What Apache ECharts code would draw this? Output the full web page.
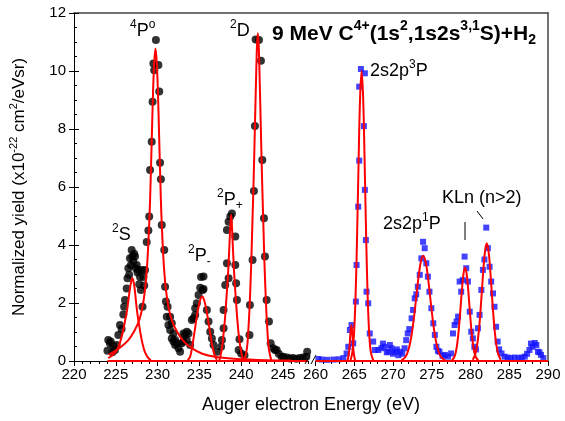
<!DOCTYPE html>
<html><head><meta charset="utf-8">
<script src="https://cdn.jsdelivr.net/npm/echarts@6/dist/echarts.min.js"></script>
<style>html,body{margin:0;padding:0;background:#fff}#c{width:565px;height:421px}</style>
</head><body><div id="c"></div>
<script>
const FONT = 'Liberation Sans, Arial, sans-serif';

// tick labels
const xTicksLeft = [220, 225, 230, 235, 240, 245];
const xTicksRight = [260, 265, 270, 275, 280, 285, 290];

// measured points, left segment (black dots)
const blackDots = [
 [224.0,0.35],[224.1,0.72],[224.3,0.60],[224.4,0.67],[224.6,0.30],[224.7,0.53],[224.9,0.38],[225.1,0.55],
 [225.3,0.90],[225.5,1.24],[225.7,1.10],[225.9,1.60],[226.0,1.87],[226.1,2.10],[226.3,2.50],[226.4,2.85],
 [226.5,3.20],[226.6,2.97],[226.7,3.54],[226.8,3.30],[226.9,3.83],[227.0,3.60],[227.1,3.43],[227.2,3.70],
 [227.3,3.60],[227.4,3.20],[227.5,3.31],[227.6,3.05],[227.7,3.14],[227.8,2.65],[227.9,2.90],[228.0,2.45],
 [228.1,3.14],[228.2,1.87],[228.3,2.90],[228.4,2.60],[228.5,3.14],[228.7,4.10],[228.9,4.50],[229.0,4.98],
 [229.1,6.59],[229.3,7.56],[229.4,8.94],[229.5,10.26],[229.6,10.03],[229.8,11.07],[230.1,10.21],[230.2,9.29],
 [230.3,6.84],[230.4,6.27],[230.5,4.69],[230.8,3.83],[230.9,2.56],[231.0,2.05],[231.1,1.53],[231.2,1.87],
 [231.3,1.24],[231.5,1.07],[231.5,1.53],[231.7,0.78],[231.7,1.30],[231.9,0.67],[231.9,0.95],[232.1,0.55],
 [232.1,0.72],[232.3,0.60],[232.5,0.44],[232.7,0.32],[232.9,0.61],[233.1,0.67],[233.1,0.95],[233.3,0.90],
 [233.5,1.01],[233.5,0.72],[233.7,0.95],[233.9,0.55],[234.1,1.41],[234.3,1.47],[234.5,1.59],[234.5,1.82],
 [234.7,1.99],[234.9,2.28],[235.1,2.53],[235.2,2.90],[235.4,2.45],[235.5,2.48],[235.5,2.91],[235.9,1.76],
 [236.1,1.36],[236.3,1.01],[236.5,0.78],[236.7,0.55],[237.1,0.32],[237.6,0.49],[237.7,0.72],[237.9,1.13],
 [237.9,1.76],[238.1,2.62],[238.3,3.37],[238.3,4.52],[238.5,4.80],[238.5,2.85],[238.7,4.98],[238.9,5.09],
 [239.3,4.29],[239.3,3.31],[239.4,2.68],[239.5,2.10],[239.7,0.38],[239.8,0.75],[240.0,0.26],[240.4,0.20],
 [241.0,0.90],[241.05,1.93],[241.37,3.48],[241.53,5.86],[241.65,8.10],[241.73,11.09],[242.13,11.07],[242.37,10.35],
 [242.53,6.93],[242.73,4.92],[242.85,3.60],[243.05,2.10],[243.33,1.36],[243.53,0.61],[243.85,0.44],[244.04,0.38],
 [244.25,0.38],[244.5,0.25],[244.84,0.15],[245.05,0.15],[245.5,0.12],[245.83,0.09],[246.2,0.10],[246.6,0.08],
 [247.0,0.10],[247.4,0.12],[247.8,0.15],[247.9,0.32]
];

// measured points, right segment (blue squares)
const blueSquares = [
 [260.37,0.07],[260.8,0.05],[261.5,0.04],[262.3,0.05],[263.0,0.06],[263.6,0.10],[264.01,0.26],[264.23,0.49],
 [264.44,1.07],[264.65,1.24],[264.87,0.61],[265.21,2.05],[265.3,3.31],[265.51,5.32],[265.64,6.91],[265.64,9.46],
 [265.86,10.07],[266.24,8.10],[266.37,9.92],[266.37,5.90],[266.50,4.17],[266.59,2.39],[266.80,1.99],[267.0,0.95],
 [267.44,0.67],[267.66,0.38],[268.1,0.38],[268.5,0.44],[268.7,0.60],[268.9,0.49],[269.2,0.30],[269.4,0.32],
 [269.6,0.55],[269.8,0.44],[270.0,0.25],[270.2,0.32],[270.5,0.40],[270.7,0.20],[270.9,0.32],[271.2,0.25],
 [271.5,0.44],[271.7,0.72],[271.9,0.95],[272.1,1.10],[272.4,1.47],[272.59,1.76],[272.8,2.16],[273.0,2.30],
 [273.2,2.56],[273.45,2.97],[273.66,3.54],[273.88,4.11],[274.09,3.89],[274.3,3.37],[274.5,2.91],[274.7,2.39],
 [274.95,1.82],[275.2,1.30],[275.4,0.90],[275.6,0.49],[275.8,0.35],[276.0,0.32],[276.4,0.18],[276.7,0.21],
 [277.1,0.15],[277.5,0.26],[277.74,0.95],[277.95,1.24],[278.2,1.36],[278.4,1.53],[278.6,2.74],[278.8,2.39],
 [279.0,2.79],[279.24,3.60],[279.45,3.20],[279.67,2.74],[279.9,1.70],[280.1,1.01],[280.3,0.78],[280.5,0.49],
 [280.7,0.40],[280.96,1.13],[281.17,1.59],[281.4,2.45],[281.6,3.14],[281.8,3.50],[282.03,4.60],[282.24,3.89],
 [282.46,3.25],[282.67,2.74],[282.9,2.33],[283.1,1.87],[283.3,1.18],[283.5,0.67],[283.7,0.40],[284.0,0.26],
 [284.4,0.15],[284.8,0.12],[285.2,0.10],[285.7,0.12],[286.2,0.10],[286.6,0.12],[287.0,0.15],[287.3,0.25],
 [287.6,0.38],[287.8,0.60],[288.0,0.49],[288.3,0.62],[288.5,0.55],[288.7,0.32],[288.9,0.30],[289.1,0.21],[289.4,0.10]
];

// fitted peak curves
const fit2S = [[224.1,0.10],[224.6,0.20],[225.0,0.32],[225.4,0.55],[225.8,0.95],[226.1,1.36],[226.4,1.85],[226.6,2.30],
 [226.8,2.68],[227.0,2.85],[227.2,2.62],[227.4,2.10],[227.6,1.60],[227.9,1.05],[228.2,0.60],[228.5,0.30],[228.9,0.10],[229.2,0.03]];
const fit4P = [[224.15,0.22],[225.45,0.45],[226.45,0.70],[227.25,1.05],[227.85,1.45],[228.25,1.95],[228.55,2.6],[228.75,3.3],
 [228.9,4.1],[229.05,5.1],[229.15,6.0],[229.3,7.6],[229.45,9.2],[229.6,10.3],[229.75,10.78],[229.9,10.3],[230.05,9.2],
 [230.2,7.6],[230.35,6.0],[230.45,5.1],[230.6,4.1],[230.75,3.3],[230.95,2.6],[231.25,1.95],[231.65,1.45],[232.25,1.05],
 [233.05,0.70],[234.05,0.45],[235.35,0.25],[237.0,0.14],[239.5,0.07],[243.0,0.03],[246.0,0.02]];
const fit2Pm = [[233.6,0.03],[233.9,0.15],[234.2,0.60],[234.45,1.05],[234.7,1.55],[234.95,1.95],[235.15,2.15],[235.35,2.22],
 [235.55,2.12],[235.75,1.90],[236.0,1.50],[236.25,1.05],[236.5,0.60],[236.8,0.22],[237.1,0.04]];
const fit2Pp = [[237.4,0.03],[237.65,0.35],[237.85,0.80],[238.05,1.40],[238.25,2.20],[238.45,3.10],[238.6,4.00],[238.7,4.65],
 [238.8,5.05],[238.9,4.65],[239.0,4.00],[239.15,3.10],[239.35,2.20],[239.55,1.40],[239.75,0.80],[239.95,0.40],[240.2,0.05]];
const fit2D = [[240.4,0.03],[240.7,0.45],[240.85,1.0],[241.0,1.8],[241.2,3.3],[241.35,4.8],[241.5,6.3],[241.65,8.1],[241.8,9.9],
 [241.9,10.9],[242.0,11.3],[242.1,10.9],[242.2,9.9],[242.35,8.1],[242.5,6.3],[242.65,4.8],[242.8,3.3],[243.0,1.8],
 [243.15,1.0],[243.3,0.45],[243.6,0.03]];
const fitBaseLeft = [[224.0,0],[248.0,0]];
const fit264 = [[264.15,0.02],[264.35,0.35],[264.5,0.95],[264.62,1.24],[264.75,0.95],[264.9,0.35],[265.1,0.02]];
const fit3P = [[264.5,0.01],[264.75,0.29],[264.95,0.85],[265.15,2.06],[265.35,4.11],[265.55,6.74],[265.75,9.06],[265.95,10.0],
 [266.15,9.06],[266.35,6.74],[266.55,4.11],[266.75,2.06],[266.95,0.85],[267.15,0.29],[267.45,0.02]];
const fit1P = [[271.1,0.03],[271.5,0.11],[271.8,0.24],[272.1,0.49],[272.4,0.90],[272.7,1.49],[273.0,2.20],[273.3,2.91],[273.6,3.43],
 [273.9,3.63],[274.2,3.43],[274.5,2.91],[274.8,2.20],[275.1,1.49],[275.4,0.90],[275.7,0.49],[276.0,0.24],[276.3,0.11],[276.7,0.03]];
const fitKLn1 = [[277.6,0.02],[277.9,0.13],[278.1,0.30],[278.3,0.62],[278.5,1.12],[278.7,1.78],[278.9,2.47],[279.1,3.01],[279.3,3.22],
 [279.5,3.01],[279.7,2.47],[279.9,1.78],[280.1,1.12],[280.3,0.62],[280.5,0.30],[280.7,0.13],[281.0,0.02]];
const fitKLn2 = [[280.3,0.04],[280.6,0.22],[280.85,0.53],[281.1,1.10],[281.35,1.95],[281.6,2.93],[281.85,3.74],[282.1,4.06],
 [282.35,3.74],[282.6,2.93],[282.85,1.95],[283.1,1.10],[283.35,0.53],[283.6,0.22],[283.9,0.04]];
const fitBaseRight = [[260.0,0],[290.0,0]];

const fitsLeft = [fitBaseLeft, fit2S, fit4P, fit2Pm, fit2Pp, fit2D];
const fitsRight = [fitBaseRight, fit264, fit3P, fit1P, fitKLn1, fitKLn2];

function rich(size, weight) {
  return {
    n: {fontSize: size, fontFamily: FONT, fontWeight: weight, fill: '#000', color: '#000', verticalAlign: 'middle'},
    sup: {fontSize: Math.round(size * 0.66), fontFamily: FONT, fontWeight: weight, fill: '#000', color: '#000',
          padding: [0, 0, Math.round(size * 0.72), 0], verticalAlign: 'middle'},
    sub: {fontSize: Math.round(size * 0.66), fontFamily: FONT, fontWeight: weight, fill: '#000', color: '#000',
          padding: [Math.round(size * 0.6), 0, 0, 0], verticalAlign: 'middle'}
  };
}
const R18 = rich(18, 'normal');
const R21B = rich(21, 'bold');

function txt(x, y, text, r) {
  return {type: 'text', x: x, y: y, z: 100,
    style: {text: text, rich: r, align: 'left', verticalAlign: 'middle', textAlign: 'left', textVerticalAlign: 'middle',
            fontSize: 18, fontFamily: FONT, fill: '#000'}};
}
function seg(x1, y1, x2, y2, w) {
  return {type: 'line', z: 100, shape: {x1: x1, y1: y1, x2: x2, y2: y2}, style: {stroke: '#000', lineWidth: w || 1}};
}

const chart = echarts.init(document.getElementById('c'), null, {renderer: 'canvas'});
const axisLab = {color: '#000', fontSize: 15, fontFamily: FONT};
const series = [];
series.push({type: 'scatter', xAxisIndex: 0, yAxisIndex: 0, data: blackDots, symbol: 'circle', symbolSize: 8,
  itemStyle: {color: '#000'}, z: 2, silent: true});
series.push({type: 'scatter', xAxisIndex: 2, yAxisIndex: 2, data: blueSquares, symbol: 'rect', symbolSize: 6,
  itemStyle: {color: '#1414ff'}, z: 2, silent: true});
fitsLeft.forEach(d => series.push({type: 'line', xAxisIndex: 0, yAxisIndex: 0, data: d, showSymbol: false, symbol: 'none',
  smooth: 0.35, lineStyle: {color: '#ff0000', width: 2}, z: 3, silent: true}));
fitsRight.forEach(d => series.push({type: 'line', xAxisIndex: 2, yAxisIndex: 2, data: d, showSymbol: false, symbol: 'none',
  smooth: 0.35, lineStyle: {color: '#ff0000', width: 2}, z: 3, silent: true}));

chart.setOption({
  animation: false,
  backgroundColor: '#fff',
  grid: [
    {left: 74, top: 13, width: 234, height: 348},
    {left: 315.5, top: 13, width: 232.5, height: 348},
    {left: 74, top: 13, width: 474, height: 348}
  ],
  xAxis: [
    {type: 'value', gridIndex: 0, min: 220, max: 248, interval: 5, position: 'bottom',
     axisLine: {show: true, onZero: false, lineStyle: {color: '#000', width: 1}},
     axisTick: {show: true, inside: false, length: 5, customValues: xTicksLeft, lineStyle: {color: '#000'}},
     axisLabel: {show: true, customValues: xTicksLeft, margin: 6, ...axisLab},
     splitLine: {show: false}},
    {type: 'value', gridIndex: 0, min: 220, max: 248, interval: 1, position: 'bottom',
     axisLine: {show: false}, axisTick: {show: true, length: 3, lineStyle: {color: '#000'}},
     axisLabel: {show: false}, splitLine: {show: false}},
    {type: 'value', gridIndex: 1, min: 260, max: 290, interval: 5, position: 'bottom',
     axisLine: {show: true, onZero: false, lineStyle: {color: '#000', width: 1}},
     axisTick: {show: true, inside: false, length: 5, lineStyle: {color: '#000'}},
     minorTick: {show: true, splitNumber: 5, length: 3, lineStyle: {color: '#000'}},
     axisLabel: {show: true, margin: 6, ...axisLab},
     splitLine: {show: false}},
    {type: 'value', gridIndex: 2, min: 0, max: 1, position: 'top',
     axisLine: {show: true, onZero: false, lineStyle: {color: '#444', width: 1.5}},
     axisTick: {show: false}, axisLabel: {show: false}, splitLine: {show: false}}
  ],
  yAxis: [
    {type: 'value', gridIndex: 0, min: 0, max: 12, interval: 2, position: 'left',
     axisLine: {show: true, onZero: false, lineStyle: {color: '#000', width: 1}},
     axisTick: {show: true, inside: false, length: 5, lineStyle: {color: '#000'}},
     axisLabel: {show: true, margin: 8, ...axisLab},
     splitLine: {show: false},
     name: '{n|Normalized yield (x10}{sup|-22}{n| cm}{sup|2}{n|/eVsr)}',
     nameLocation: 'middle', nameGap: 43, nameRotate: 90,
     nameTextStyle: {rich: {
       n: {fontSize: 17, fontFamily: FONT, color: '#000', verticalAlign: 'middle'},
       sup: {fontSize: 11, fontFamily: FONT, color: '#000', padding: [0, 0, 12, 0], verticalAlign: 'middle'}}}},
    {type: 'value', gridIndex: 0, min: 0, max: 12, interval: 2, position: 'left',
     axisLine: {show: false}, axisTick: {show: true, inside: true, length: 5, lineStyle: {color: '#000'}},
     minorTick: {show: true, splitNumber: 4, length: 3, lineStyle: {color: '#000'}},
     axisLabel: {show: false}, splitLine: {show: false}},
    {type: 'value', gridIndex: 1, min: 0, max: 12, interval: 2, show: false, splitLine: {show: false}},
    {type: 'value', gridIndex: 2, min: 0, max: 1, position: 'right',
     axisLine: {show: true, onZero: false, lineStyle: {color: '#444', width: 1.5}},
     axisTick: {show: false}, axisLabel: {show: false}, splitLine: {show: false}}
  ],
  series: series,
  graphic: [
    txt(272, 34, '{n|9 MeV C}{sup|4+}{n|(1s}{sup|2}{n|,1s2s}{sup|3,1}{n|S)+H}{sub|2}', R21B),
    txt(130, 31, '{sup|4}{n|P}{sup|o}', R18),
    txt(230, 31, '{sup|2}{n|D}', R18),
    txt(112, 235, '{sup|2}{n|S}', R18),
    txt(188, 256, '{sup|2}{n|P}{sub|-}', R18),
    txt(217, 200, '{sup|2}{n|P}{sub|+}', R18),
    txt(370, 71, '{n|2s2p}{sup|3}{n|P}', R18),
    txt(383, 224, '{n|2s2p}{sup|1}{n|P}', R18),
    txt(442, 198, '{n|KLn (n>2)}', R18),
    seg(465, 222, 465, 240, 1),
    seg(477, 211, 483, 219, 1),
    seg(305, 364, 310, 355, 1),
    seg(311, 364, 316, 355, 1),
    {type: 'text', x: 311, y: 405, z: 100,
     style: {text: 'Auger electron Energy (eV)', fontSize: 18, fontFamily: FONT, fill: '#000',
             align: 'center', verticalAlign: 'middle', textAlign: 'center', textVerticalAlign: 'middle'}}
  ]
});
</script></body></html>
